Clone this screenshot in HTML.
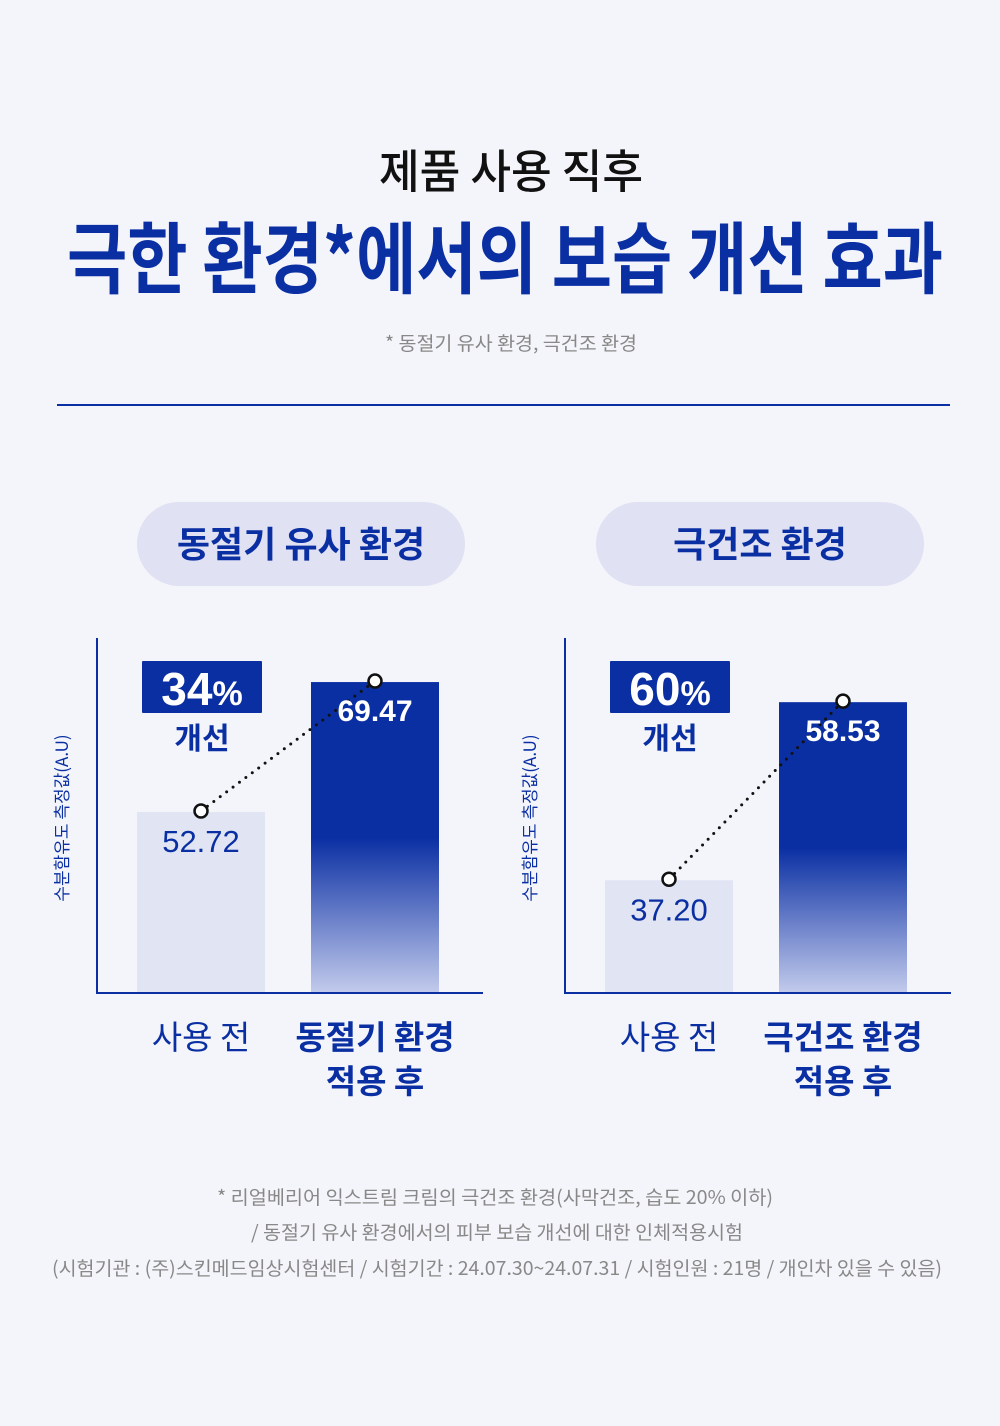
<!DOCTYPE html>
<html><head><meta charset="utf-8"><style>
html,body{margin:0;padding:0;background:#f4f5fa}
svg{display:block}
text{font-family:"Liberation Sans","Noto Sans CJK KR",sans-serif}
.k{font-family:"Noto Sans CJK KR","Liberation Sans",sans-serif}
</style></head><body>
<svg width="1000" height="1426" viewBox="0 0 1000 1426">
<defs>
<linearGradient id="g" x1="0" y1="0" x2="0" y2="1">
<stop offset="0" stop-color="#0a2fa3"/><stop offset="0.5" stop-color="#0a2fa3"/><stop offset="1" stop-color="#c3cbec"/>
</linearGradient>
</defs>
<rect width="1000" height="1426" fill="#f4f5fa"/>
<text class="k" x="511" y="188" text-anchor="middle" font-size="46" font-weight="500" fill="#111" textLength="264" lengthAdjust="spacingAndGlyphs">제품 사용 직후</text>
<text class="k" x="505" y="287" text-anchor="middle" font-size="78" font-weight="700" fill="#0a2fa3" textLength="876" lengthAdjust="spacingAndGlyphs">극한 환경*에서의 보습 개선 효과</text>
<text class="k" x="511" y="350" text-anchor="middle" font-size="19" fill="#888" textLength="252" lengthAdjust="spacingAndGlyphs">* 동절기 유사 환경, 극건조 환경</text>
<rect x="57" y="404" width="893" height="2" fill="#0a2fa3"/>
<g id="charts"></g>
<g fill="#888" font-size="19">
<text class="k" x="495" y="1204" text-anchor="middle" textLength="556" lengthAdjust="spacingAndGlyphs">* 리얼베리어 익스트림 크림의 극건조 환경(사막건조, 습도 20% 이하)</text>
<text class="k" x="497" y="1239" text-anchor="middle" textLength="492" lengthAdjust="spacingAndGlyphs">/ 동절기 유사 환경에서의 피부 보습 개선에 대한 인체적용시험</text>
<text class="k" x="497" y="1275" text-anchor="middle" textLength="890" lengthAdjust="spacingAndGlyphs">(시험기관 : (주)스킨메드임상시험센터 / 시험기간 : 24.07.30~24.07.31 / 시험인원 : 21명 / 개인차 있을 수 있음)</text>
</g>
</svg>
<script>
const chartTitles=["동절기 유사 환경","극건조 환경"];
const beforeValues=[52.72,37.20];
const afterValues=[69.47,58.53];
const improvements=["34%","60%"];
const afterLabels1=["동절기 환경","극건조 환경"];
const NS="http://www.w3.org/2000/svg";
const root=document.getElementById('charts');
function mk(tag,attrs,parent,txt){const e=document.createElementNS(NS,tag);for(const k in attrs)e.setAttribute(k,attrs[k]);if(txt!==undefined)e.textContent=txt;parent.appendChild(e);return e;}
const layouts=[{ax:96,v0:29.4,ppu:7.76,pill:137},{ax:564,v0:23.7,ppu:8.35,pill:596}];
layouts.forEach((L,i)=>{
 const g=mk('g',{},root);
 
 
 const base=993;
 const y=v=>base-(v-L.v0)*L.ppu;
 const p=mk('rect',{x:L.pill,y:502,width:328,height:84,rx:42,fill:'#e0e1f2'},g);
 
 
 const t=mk('text',{class:'k',x:L.pill+164,y:557,'text-anchor':'middle','font-size':36,'font-weight':700,fill:'#0a2fa3'},g,chartTitles[i]);
 
 
 const bx=L.ax+41, ax2=L.ax+215;
 const yb=y(beforeValues[i]), ya=y(afterValues[i]);
 const b1=mk('rect',{x:bx,y:yb,width:128,height:base-yb,fill:'#e1e5f3'},g);
 
 
 const b2=mk('rect',{x:ax2,y:ya,width:128,height:base-ya,fill:'url(#g)'},g);
 
 
 const axl=mk('path',{d:`M${L.ax+1} 638V${base}H${L.ax+387}`,stroke:'#0a2fa3','stroke-width':2,fill:'none'},g);
 
 
 const yt=mk('text',{class:'k',transform:`translate(${L.ax-28},818) rotate(-90)`,'text-anchor':'middle','font-size':17,fill:'#0a2fa3'},g,'수분함유도 측정값(A.U)');
 
 
 const cx1=bx+64, cx2=ax2+64;
 const ln=mk('line',{x1:cx1,y1:yb-1,x2:cx2,y2:ya-1,stroke:'#111','stroke-width':3,'stroke-dasharray':'0 8','stroke-linecap':'round'},g);
 
 
 [[cx1,yb-1],[cx2,ya-1]].forEach(c=>{const d=mk('circle',{cx:c[0],cy:c[1],r:6.5,fill:'#fff',stroke:'#111','stroke-width':2.5},g);
 
 });
 const v1=mk('text',{x:cx1,y:yb+40,'text-anchor':'middle','font-size':31,fill:'#0a2fa3'},g,beforeValues[i].toFixed(2));
 
 
 const v2=mk('text',{x:cx2,y:ya+39,'text-anchor':'middle','font-size':30,'font-weight':700,fill:'#fff'},g,afterValues[i].toFixed(2));
 
 
 const bgx=L.ax+46+(i?0:0);
 const bb=mk('rect',{x:bgx,y:661,width:120,height:52,fill:'#0a2fa3',rx:1},g);
 
 
 const bt=mk('text',{x:bgx+60,y:705,'text-anchor':'middle','font-size':46,'font-weight':700,fill:'#fff'},g);
 
 
 const num=improvements[i].replace('%','');
 mk('tspan',{},bt,num);mk('tspan',{'font-size':34},bt,'%');
 const gs=mk('text',{class:'k',x:bgx+60,y:749,'text-anchor':'middle','font-size':30,'font-weight':700,fill:'#0a2fa3'},g,'개선');
 
 
 const c1=mk('text',{class:'k',x:cx1,y:1049,'text-anchor':'middle','font-size':33,fill:'#0a2fa3'},g,'사용 전');
 
 
 const c2=mk('text',{class:'k',x:cx2,y:1049,'text-anchor':'middle','font-size':33,'font-weight':700,fill:'#0a2fa3'},g,afterLabels1[i]);
 
 
 const c3=mk('text',{class:'k',x:cx2,y:1093,'text-anchor':'middle','font-size':33,'font-weight':700,fill:'#0a2fa3'},g,'적용 후');
 
 
});
</script>
</body></html>
